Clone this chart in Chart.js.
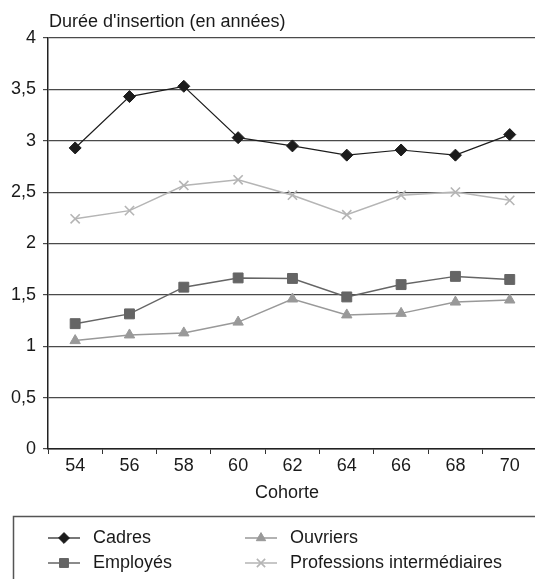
<!DOCTYPE html>
<html>
<head>
<meta charset="utf-8">
<script src="https://cdn.jsdelivr.net/npm/chart.js@4/dist/chart.umd.min.js"></script>
<style>
  html, body { margin: 0; padding: 0; background: #fff; overflow: hidden; }
  #wrap { width: 545px; height: 579px; }
</style>
</head>
<body>
<div id="wrap"><canvas id="c" width="545" height="579"></canvas></div>
<script>
// Cohortes de naissance
const cohortes = ['54', '56', '58', '60', '62', '64', '66', '68', '70'];

// Durée d'insertion moyenne (années) par catégorie socioprofessionnelle
const cadres = [2.93, 3.43, 3.53, 3.03, 2.95, 2.86, 2.91, 2.86, 3.06];
const employes = [1.22, 1.315, 1.575, 1.665, 1.66, 1.48, 1.60, 1.68, 1.65];
const ouvriers = [1.055, 1.11, 1.13, 1.235, 1.46, 1.305, 1.32, 1.43, 1.45];
const professions = [2.24, 2.32, 2.565, 2.62, 2.47, 2.28, 2.47, 2.50, 2.42];

const yTicks = [0, 0.5, 1, 1.5, 2, 2.5, 3, 3.5, 4];

const FONT = 'Liberation Sans, Arial, Helvetica, sans-serif';
const FSIZE = 18;
const frDecimal = v => String(v).replace('.', ',');

// Legend order: two columns, two rows
const legendLayout = [
  { idx: 0, col: 0, row: 0 },
  { idx: 2, col: 1, row: 0 },
  { idx: 1, col: 0, row: 1 },
  { idx: 3, col: 1, row: 1 }
];

const extras = {
  id: 'extras',
  afterDraw(chart) {
    const ctx = chart.ctx;
    const area = chart.chartArea;
    ctx.save();
    ctx.fillStyle = '#1a1a1a';
    ctx.font = FSIZE + 'px ' + FONT;
    ctx.textBaseline = 'middle';

    // Axis heading above the plot
    ctx.textAlign = 'left';
    ctx.fillText("Durée d'insertion (en années)", area.left + 1, area.top - 16);

    // X axis title
    ctx.textAlign = 'center';
    ctx.fillText('Cohorte', 287, 493);

    // Legend frame
    ctx.strokeStyle = '#555';
    ctx.lineWidth = 1.5;
    ctx.strokeRect(13.5, 516.5, 600, 100);

    // Legend entries
    const colX = [48, 245];
    const rowY = [538, 563];
    legendLayout.forEach(item => {
      const ds = chart.data.datasets[item.idx];
      const x0 = colX[item.col];
      const y = rowY[item.row];
      ctx.strokeStyle = ds.borderColor;
      ctx.lineWidth = ds.borderWidth;
      ctx.beginPath();
      ctx.moveTo(x0, y);
      ctx.lineTo(x0 + 32, y);
      ctx.stroke();
      ctx.fillStyle = ds.pointBackgroundColor;
      ctx.lineWidth = ds.pointBorderWidth;
      Chart.helpers.drawPoint(ctx, {
        pointStyle: ds.pointStyle,
        radius: ds.pointRadius * 0.9,
        rotation: 0,
        borderWidth: ds.pointBorderWidth
      }, x0 + 16, y);
      ctx.fillStyle = '#1a1a1a';
      ctx.textAlign = 'left';
      ctx.fillText(ds.label, x0 + 45, y);
    });
    ctx.restore();
  }
};

function series(label, data, color, style, radius, width, pbw) {
  return {
    label, data,
    borderColor: color,
    backgroundColor: color,
    pointBackgroundColor: color,
    pointBorderColor: color,
    pointStyle: style,
    pointRadius: radius,
    pointHoverRadius: radius,
    pointBorderWidth: pbw,
    borderWidth: width,
    tension: 0,
    clip: false
  };
}

new Chart(document.getElementById('c'), {
  type: 'line',
  data: {
    labels: cohortes,
    datasets: [
      series('Cadres', cadres, '#1c1c1c', 'rectRot', 6, 1.2, 1),
      series('Employés', employes, '#656565', 'rect', 7, 1.5, 1),
      series('Ouvriers', ouvriers, '#999999', 'triangle', 6, 1.5, 1),
      series('Professions intermédiaires', professions, '#b5b5b5', 'crossRot', 6.5, 1.5, 1.6)
    ]
  },
  options: {
    responsive: false,
    animation: false,
    devicePixelRatio: 1,
    layout: { padding: { top: 38, right: 2, bottom: 100, left: 0 } },
    plugins: { legend: { display: false }, title: { display: false }, tooltip: { enabled: false } },
    scales: {
      x: {
        offset: true,
        afterFit(scale) { scale.height = 30; },
        grid: {
          offset: true,
          drawOnChartArea: false,
          drawTicks: true,
          tickLength: 5,
          color: '#333',
          lineWidth: 1
        },
        border: { display: true, color: '#222', width: 1.5 },
        ticks: { color: '#1a1a1a', font: { family: FONT, size: FSIZE }, padding: 1, maxRotation: 0 }
      },
      y: {
        min: 0, max: 4,
        afterBuildTicks(scale) { scale.ticks = yTicks.map(v => ({ value: v })); },
        afterFit(scale) { scale.width = 48; },
        grid: {
          color: '#4a4a4a',
          lineWidth: 1.2,
          drawTicks: true,
          tickLength: 5
        },
        border: { display: true, color: '#222', width: 1.5 },
        ticks: {
          color: '#1a1a1a', font: { family: FONT, size: FSIZE }, padding: 7,
          callback: v => frDecimal(v)
        }
      }
    }
  },
  plugins: [extras]
});
</script>
</body>
</html>
